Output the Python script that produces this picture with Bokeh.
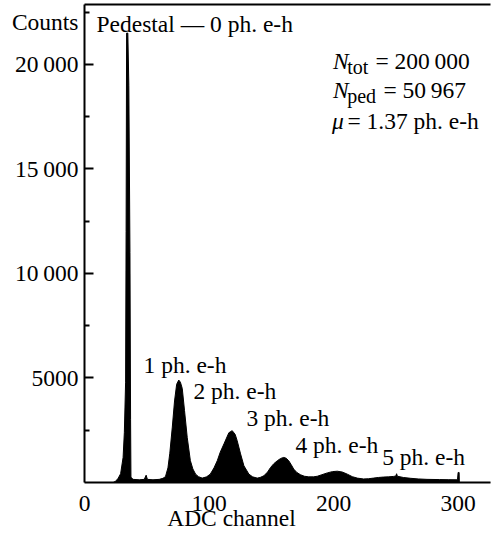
from bokeh.plotting import figure
from bokeh.models import Label, FixedTicker, LinearAxis, ColumnDataSource
from bokeh.embed import file_html
from bokeh.resources import INLINE

# ---------------- data ----------------
ADC_CHANNEL = [0, 23, 25, 27, 29, 31, 32, 33, 33.4, 33.8, 34.8, 35.6, 36.5, 37.0, 37.3,
               39, 44, 48, 49.5, 50.5, 55, 60, 63, 65, 67, 68.5, 70.5, 72.3, 74, 75.7,
               77, 78.5, 80.3, 82.5, 85, 87, 89.2, 91.5, 94.5, 98, 101, 104, 106.6, 109,
               112, 115.9, 118.6, 121, 122.6, 125.3, 128, 132, 135, 138.7, 141, 144, 147,
               149.4, 152, 154.8, 157.5, 160, 162, 164, 166, 168, 170.5, 173.5, 176.5, 180,
               184, 187, 190, 195, 199, 203, 207, 211, 215, 219, 224, 228, 232, 236, 240,
               244, 248, 250, 250.6, 251.2, 256, 262, 268, 275, 285, 292, 299.5, 300,
               300.8, 301, 326]
COUNTS = [0, 0, 60, 200, 420, 1200, 2400, 4800, 12000, 21500, 21500, 19000, 11000, 3000, 250,
          150, 130, 150, 350, 150, 130, 150, 200, 280, 700, 1400, 2650, 3900, 4700, 4900,
          4800, 4500, 3450, 2150, 1050, 650, 400, 280, 210, 270, 400, 700, 1040, 1450,
          1850, 2380, 2480, 2300, 2000, 1370, 800, 400, 270, 210, 240, 320, 500,
          720, 900, 1040, 1150, 1200, 1160, 1040, 850, 640, 480, 370, 300, 270,
          270, 300, 360, 460, 520, 540, 500, 400, 280, 210, 170, 180, 210, 240, 260,
          270, 290, 310, 420, 300, 240, 200, 170, 150, 140, 135, 130, 480,
          480, 0, 0]

X_TICKS = [0, 100, 200, 300]
X_TITLE = "ADC channel"
X_TITLE_POS = 118
Y_TICKS = [5000, 10000, 15000, 20000]
Y_TICK_LABELS = ["5000", "10\u2009000", "15\u2009000", "20\u2009000"]
Y_MINOR_TICKS = [2500, 7500, 12500, 17500, 22500]
Y_TITLE = "Counts"
Y_TITLE_POS = 22030

PEAK_LABELS = ["1 ph. e-h", "2 ph. e-h", "3 ph. e-h", "4 ph. e-h", "5 ph. e-h"]
PEAK_LABEL_X = [47.4, 87.5, 130, 169.4, 239]
PEAK_LABEL_Y = [5333, 4084, 2786, 1489, 913]

FONT = "Liberation Serif"
FS = "23.5px"
SUB = "20px"

p = figure(width=492, height=538, x_range=(0, 326), y_range=(0, 22868),
           output_backend="svg", toolbar_location=None,
           min_border_left=84, min_border_right=2, min_border_top=4, min_border_bottom=56,
           background_fill_color="white", border_fill_color="white")
p.outline_line_color = None
p.xgrid.visible = False
p.ygrid.visible = False

src = ColumnDataSource(dict(x=ADC_CHANNEL, y=COUNTS))
p.varea(x="x", y1=0, y2="y", source=src, fill_color="black")
p.line(x="x", y="y", source=src, line_color="black", line_width=1)

# x axis: line + tick labels
xa = p.xaxis[0]
xa.ticker = FixedTicker(ticks=X_TICKS, minor_ticks=[])
xa.major_tick_in = 0
xa.major_tick_out = 0
xa.minor_tick_in = 0
xa.minor_tick_out = 0
xa.axis_line_width = 2
xa.axis_line_color = "black"
xa.major_label_text_font = FONT
xa.major_label_text_font_size = FS
xa.major_label_text_color = "black"
xa.major_label_standoff = 13

# x title, set where the reference prints it
xt = LinearAxis(ticker=FixedTicker(ticks=[X_TITLE_POS], minor_ticks=[]),
                major_label_overrides={X_TITLE_POS: X_TITLE},
                major_tick_in=0, major_tick_out=0, minor_tick_in=0, minor_tick_out=0,
                axis_line_color=None, major_label_text_font=FONT,
                major_label_text_font_size=FS, major_label_text_color="black",
                major_label_standoff=-9)
p.add_layout(xt, "below")

# y axis: line + major tick marks (drawn as tick marks without labels)
ya = p.yaxis[0]
ya.ticker = FixedTicker(ticks=[], minor_ticks=Y_TICKS)
ya.major_tick_in = 0
ya.major_tick_out = 0
ya.minor_tick_in = 9
ya.minor_tick_out = 0
ya.minor_tick_line_width = 2
ya.minor_tick_line_color = "black"
ya.axis_line_width = 2
ya.axis_line_color = "black"
ya.major_label_standoff = 0

# minor tick marks
ym = LinearAxis(ticker=FixedTicker(ticks=[], minor_ticks=Y_MINOR_TICKS),
                major_tick_in=0, major_tick_out=0, minor_tick_in=5, minor_tick_out=0,
                minor_tick_line_width=2, minor_tick_line_color="black",
                axis_line_color=None, major_label_standoff=0)
p.add_layout(ym, "left")

# tick labels and the "Counts" title
lab_ticks = Y_TICKS + [Y_TITLE_POS]
overrides = {t: l for t, l in zip(Y_TICKS, Y_TICK_LABELS)}
overrides[Y_TITLE_POS] = Y_TITLE
yl = LinearAxis(ticker=FixedTicker(ticks=lab_ticks, minor_ticks=[]),
                major_label_overrides=overrides,
                major_tick_in=0, major_tick_out=0, minor_tick_in=0, minor_tick_out=0,
                axis_line_color=None, major_label_text_font=FONT,
                major_label_text_font_size=FS, major_label_text_color="black",
                major_label_standoff=6)
p.add_layout(yl, "left")

# top frame line
top = LinearAxis(ticker=FixedTicker(ticks=[], minor_ticks=[]), major_tick_in=0, major_tick_out=0,
                 minor_tick_in=0, minor_tick_out=0,
                 major_label_standoff=0, axis_line_width=2, axis_line_color="black")
p.add_layout(top, "above")

def lab(text, x, y, size=FS, style="normal", align="left"):
    p.add_layout(Label(text=text, x=x, y=y, text_font=FONT, y_offset=6,
                       text_font_size=size, text_font_style=style, text_align=align,
                       text_baseline="alphabetic", text_color="black"))

lab("Pedestal \u2014 0 ph. e-h", 9.6, 21667)

# statistics block
lab("N", 199.6, 19875, style="italic")
lab("tot", 210.9, 19601, size=SUB)
lab("= 200\u2009000", 233.6, 19875)
lab("N", 199.6, 18511, style="italic")
lab("ped", 210.9, 18208, size=SUB)
lab("= 50\u2009967", 240, 18511)
lab("\u03bc", 198.8, 16993, style="italic")
lab("= 1.37 ph. e-h", 211.1, 16993)

for t, x, y in zip(PEAK_LABELS, PEAK_LABEL_X, PEAK_LABEL_Y):
    lab(t, x, y)

open("out.html", "w").write(file_html(p, INLINE))
